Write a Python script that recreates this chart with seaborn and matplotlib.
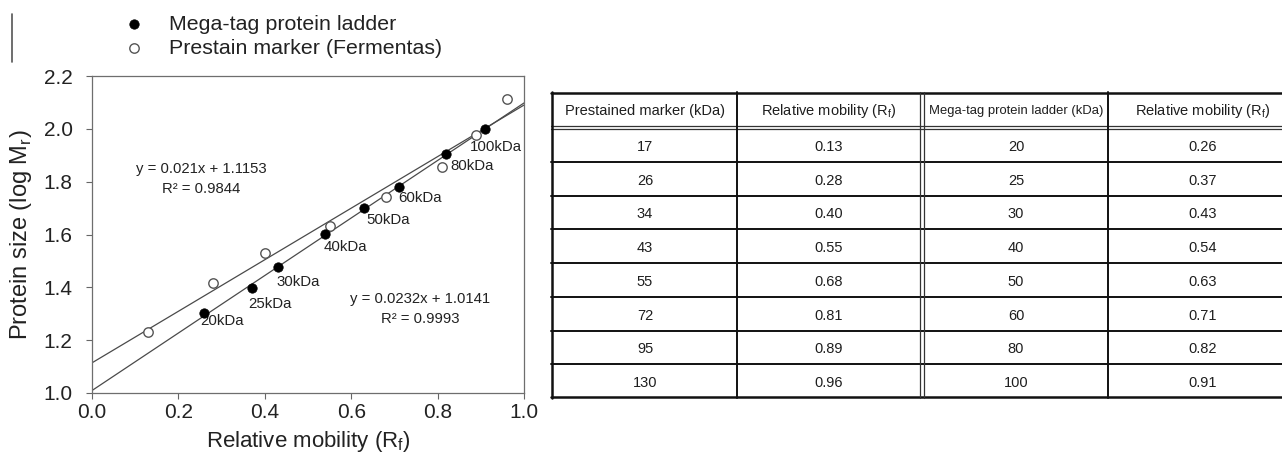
import numpy as np
import pandas as pd
import matplotlib
matplotlib.use("Agg")
import matplotlib.pyplot as plt
from matplotlib.lines import Line2D
import seaborn as sns

# Marker sizes (kDa) and their relative mobility values
mega_kda = [20, 25, 30, 40, 50, 60, 80, 100]
mega_rf = [0.26, 0.37, 0.43, 0.54, 0.63, 0.71, 0.82, 0.91]
prestain_kda = [17, 26, 34, 43, 55, 72, 95, 130]
prestain_rf = [0.13, 0.28, 0.40, 0.55, 0.68, 0.81, 0.89, 0.96]

# Printed regression equations
prestain_eq = ["y = 0.021x + 1.1153", "R\u00b2 = 0.9844"]
mega_eq = ["y = 0.0232x + 1.0141", "R\u00b2 = 0.9993"]

# Label offsets (pixels) for the ladder band names
label_offsets = [(-4, -8), (-4, -16), (-1, -15), (-2, -13), (2, -12), (0, -11), (4, -12), (-15, -18)]

sns.set_theme(style="white")
plt.rcParams["font.family"] = ["Liberation Sans", "DejaVu Sans"]
plt.rcParams["mathtext.fontset"] = "custom"
plt.rcParams["mathtext.rm"] = "Liberation Sans"

mega = pd.DataFrame({"kda": mega_kda, "rf": mega_rf})
mega["logmr"] = np.log10(mega["kda"])
pre = pd.DataFrame({"kda": prestain_kda, "rf": prestain_rf})
pre["logmr"] = np.log10(pre["kda"])

fig = plt.figure(figsize=(12.82, 4.55), dpi=100)
W, H = 1282, 455
ax = fig.add_axes([92 / W, 1 - 393 / H, (524 - 92) / W, (393 - 76) / H])
ax.set_xlim(0, 1)
ax.set_ylim(1.0, 2.2)

line_kw = dict(color="#4a4a4a", linewidth=0.9)
sns.regplot(data=pre, x="rf", y="logmr", ax=ax, scatter=False, ci=None,
            truncate=False, line_kws=line_kw)
sns.regplot(data=mega, x="rf", y="logmr", ax=ax, scatter=False, ci=None,
            truncate=False, line_kws=line_kw)

sns.scatterplot(data=pre, x="rf", y="logmr", ax=ax, s=46, color="white",
                edgecolor="#555555", linewidth=1.0, zorder=4,
                label="Prestain marker (Fermentas)")
sns.scatterplot(data=mega, x="rf", y="logmr", ax=ax, s=46, color="black",
                edgecolor="black", linewidth=0.5, zorder=5,
                label="Mega-tag protein ladder")

for (k, x, y), (dx, dy) in zip(mega[["kda", "rf", "logmr"]].itertuples(index=False), label_offsets):
    ax.annotate(f"{int(k)}kDa", xy=(x, y), xytext=(dx, dy), textcoords="offset pixels",
                ha="left", va="center", fontsize=10.8, color="#222222")

eq_kw = dict(ha="center", va="center", fontsize=10.7, color="#222222")
ax.text(0.253, 1.848, prestain_eq[0], **eq_kw)
ax.text(0.253, 1.773, prestain_eq[1], **eq_kw)
ax.text(0.760, 1.356, mega_eq[0], **eq_kw)
ax.text(0.760, 1.281, mega_eq[1], **eq_kw)

ax.set_xticks(np.arange(0, 1.01, 0.2))
ax.set_yticks(np.arange(1.0, 2.21, 0.2))
ax.xaxis.set_major_formatter(matplotlib.ticker.FormatStrFormatter("%.1f"))
ax.yaxis.set_major_formatter(matplotlib.ticker.FormatStrFormatter("%.1f"))
ax.tick_params(axis="both", which="major", labelsize=15, direction="out", length=4,
               width=0.8, color="#666666", bottom=True, left=True, labelcolor="#222222")
ax.tick_params(axis="y", pad=10)
ax.tick_params(axis="x", pad=3)
for sp in ax.spines.values():
    sp.set_color("#6e6e6e")
    sp.set_linewidth(0.9)
ax.set_xlabel(r"Relative mobility (R$_\mathregular{f}$)", fontsize=16, color="#222222", labelpad=5)
ax.set_ylabel(r"Protein size (log M$_\mathregular{r}$)", fontsize=17, color="#222222", labelpad=7)

handles, labels = ax.get_legend_handles_labels()
order = [labels.index("Mega-tag protein ladder"), labels.index("Prestain marker (Fermentas)")]
ax.legend([handles[i] for i in order], [labels[i] for i in order],
          loc="upper left", bbox_to_anchor=(113 / W, 1 - 6 / H),
          bbox_transform=fig.transFigure, frameon=False, fontsize=15.4,
          handletextpad=1.0, labelspacing=0.25, borderaxespad=0, handlelength=1.2,
          labelcolor="#222222")

# stray rule at the top-left edge
fig.add_artist(Line2D([12 / W, 12 / W], [1 - 14 / H, 1 - 62 / H], transform=fig.transFigure,
                      color="#555555", linewidth=1.2))

# ---- Table of mobility values (coordinates in pixels from the table's top-left) ----
tab_left, tab_top, tab_bottom = 551, 92, 398
tab_h = tab_bottom - tab_top
tax = fig.add_axes([tab_left / W, 1 - tab_bottom / H, (W - tab_left) / W, tab_h / H])
tax.set_xlim(0, W - tab_left)
tax.set_ylim(tab_h, 0)
tax.axis("off")

header_h = 36
row_edges = np.linspace(header_h, tab_h, 9)
row_centers = (row_edges[:-1] + row_edges[1:]) / 2 + 2
col_centers = [94, 277.5, 465, 652]
headers = ["Prestained marker (kDa)", r"Relative mobility (R$_\mathregular{f}$)",
           "Mega-tag protein ladder (kDa)", r"Relative mobility (R$_\mathregular{f}$)"]
header_sizes = [10.5, 10.5, 9.4, 10.5]
columns = [[str(v) for v in prestain_kda], [f"{v:.2f}" for v in prestain_rf],
           [str(v) for v in mega_kda], [f"{v:.2f}" for v in mega_rf]]

for c, (txt, fs) in enumerate(zip(headers, header_sizes)):
    tax.text(col_centers[c], header_h / 2 + 1, txt, ha="center", va="center", fontsize=fs, color="#1e1e1e")
for c, vals in enumerate(columns):
    for r, v in enumerate(vals):
        tax.text(col_centers[c], row_centers[r], v, ha="center", va="center",
                 fontsize=10.5, color="#1e1e1e")

dark = "#111111"
right = 747
for yy in row_edges[1:-1]:
    tax.plot([0, right], [yy, yy], color=dark, linewidth=1.4, clip_on=False)
# double rule under the header
for yy in (header_h - 2, header_h + 1):
    tax.plot([0, right], [yy, yy], color="#333333", linewidth=0.9, clip_on=False)
# outer border
tax.plot([0, right], [0.7, 0.7], color=dark, linewidth=1.8, clip_on=False)
tax.plot([0, right], [tab_h - 0.7, tab_h - 0.7], color=dark, linewidth=1.8, clip_on=False)
tax.plot([0.7, 0.7], [0, tab_h], color=dark, linewidth=1.8, clip_on=False)
# column rules
for x in (186, 557):
    tax.plot([x, x], [0, tab_h], color=dark, linewidth=1.4, clip_on=False)
# double rule between the two halves
for x in (369, 373):
    tax.plot([x, x], [0, tab_h], color="#333333", linewidth=0.9, clip_on=False)

fig.savefig("out.png", dpi=100)
